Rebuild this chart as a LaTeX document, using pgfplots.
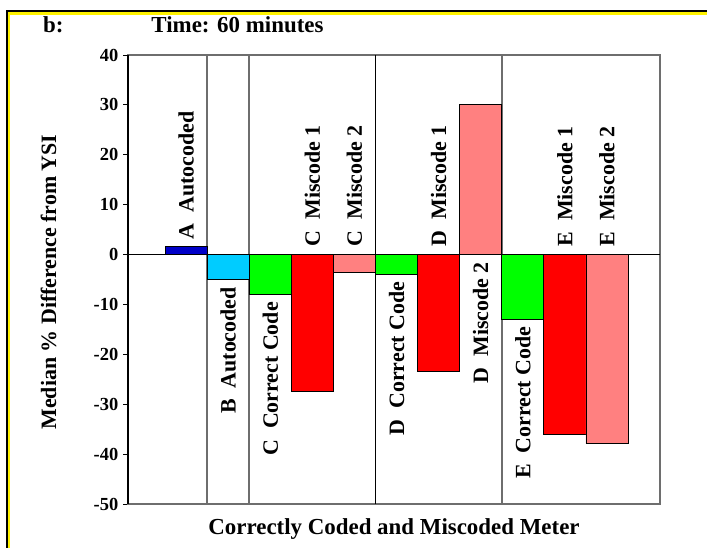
\documentclass[border=0pt]{standalone}
\usepackage{fontspec}
\setmainfont{Liberation Serif}
\usepackage{pgfplots}
\pgfplotsset{compat=1.18}
\definecolor{barblue}{HTML}{0000C8}
\definecolor{barcyan}{HTML}{00CCFF}
\definecolor{bargreen}{HTML}{00FF00}
\definecolor{barred}{HTML}{FF0000}
\definecolor{barpink}{HTML}{FF8080}
\definecolor{framegray}{HTML}{6E6E6E}
\newcommand\lab{\bfseries\fontsize{22}{24}\selectfont}
\newcommand\ttl{\bfseries\fontsize{23}{25}\selectfont}
\begin{document}
\begin{tikzpicture}[x=1bp,y=1bp]
\useasboundingbox (0,0) rectangle (707,548);
\fill[white] (0,0) rectangle (707,548);
% outer decoration
\fill[black] (6,0) rectangle (8.3,538);
\fill[yellow] (8.3,0) rectangle (10.3,535.5);
\fill[black] (6,535.8) rectangle (707,538);
\fill[yellow] (8.3,533) rectangle (707,535.8);
\begin{axis}[
  at={(128bp,44bp)}, anchor=south west,
  width=532bp, height=449bp, scale only axis,
  xmin=-1.38, xmax=11.26, ymin=-50, ymax=40,
  ytick={-50,-40,...,40},
  xtick=\empty,
  ytick pos=left, tick align=outside,
  major tick length=5bp,
  tick style={black, line width=0.8bp},
  axis line style={draw=framegray, line width=1.5bp},
  yticklabel style={font=\bfseries\fontsize{18.5}{20}\selectfont, inner sep=4.5bp},
  /pgf/number format/assume math mode=true,
  clip=false,
  axis on top=false,
]
% separators
\draw[framegray, line width=1.5bp] (axis cs:0.5,-50) -- (axis cs:0.5,40);
\draw[framegray, line width=1.5bp] (axis cs:1.5,-50) -- (axis cs:1.5,40);
\draw[black, line width=1.3bp] (axis cs:4.5,-50) -- (axis cs:4.5,40);
\draw[framegray, line width=1.5bp] (axis cs:7.5,-50) -- (axis cs:7.5,40);
% bars
\addplot[ybar, bar width=1, bar shift=0pt, fill=barblue, draw=black, line width=0.8bp] coordinates {(0,1.6)};
\addplot[ybar, bar width=1, bar shift=0pt, fill=barcyan, draw=black, line width=0.8bp] coordinates {(1,-5.0)};
\addplot[ybar, bar width=1, bar shift=0pt, fill=bargreen, draw=black, line width=0.8bp] coordinates {(2,-8.0) (5,-3.9) (8,-12.9)};
\addplot[ybar, bar width=1, bar shift=0pt, fill=barred, draw=black, line width=0.8bp] coordinates {(3,-27.5) (6,-23.4) (9,-36.1)};
\addplot[ybar, bar width=1, bar shift=0pt, fill=barpink, draw=black, line width=0.8bp] coordinates {(4,-3.5) (7,30.0) (10,-37.9)};
% zero line and left axis
\draw[black, line width=1.2bp] (rel axis cs:0,0) |- (axis cs:11.26,0);
\draw[black, line width=1.2bp] (rel axis cs:0,0) -- (rel axis cs:0,1);
% bar labels
\node[yshift=7bp, rotate=90, anchor=west, inner sep=0pt, font=\lab] at (axis cs:0,1.6) {A\ \ Autocoded};
\node[yshift=-7.5bp, rotate=90, anchor=east, inner sep=0pt, font=\lab] at (axis cs:1,-5.0) {B\ \ Autocoded};
\node[yshift=-7.5bp, rotate=90, anchor=east, inner sep=0pt, font=\lab] at (axis cs:2,-8.0) {C\ \ Correct Code};
\node[yshift=8bp, rotate=90, anchor=west, inner sep=0pt, font=\lab] at (axis cs:3,0) {C\ \ Miscode 1};
\node[yshift=8bp, rotate=90, anchor=west, inner sep=0pt, font=\lab] at (axis cs:4,0) {C\ \ Miscode 2};
\node[yshift=-7.5bp, rotate=90, anchor=east, inner sep=0pt, font=\lab] at (axis cs:5,-3.9) {D\ \ Correct Code};
\node[yshift=8bp, rotate=90, anchor=west, inner sep=0pt, font=\lab] at (axis cs:6,0) {D\ \ Miscode 1};
\node[yshift=-7.5bp, rotate=90, anchor=east, inner sep=0pt, font=\lab] at (axis cs:7,0) {D\ \ Miscode 2};
\node[yshift=-7.5bp, rotate=90, anchor=east, inner sep=0pt, font=\lab] at (axis cs:8,-12.9) {E\ \ Correct Code};
\node[yshift=8bp, rotate=90, anchor=west, inner sep=0pt, font=\lab] at (axis cs:9,0) {E\ \ Miscode 1};
\node[yshift=8bp, rotate=90, anchor=west, inner sep=0pt, font=\lab] at (axis cs:10,0) {E\ \ Miscode 2};
\end{axis}
% titles and axis labels
\node[rotate=90, font=\lab] at (48.5,266) {Median \% Difference from YSI};
\node[font=\ttl] at (394,18.5) {Correctly Coded and Miscoded Meter};
\node[font=\ttl, anchor=base] at (237.5,515) {Time: 60 minutes};
\node[font=\ttl, anchor=base west, inner sep=0pt] at (43,515) {b:};
\end{tikzpicture}
\end{document}
